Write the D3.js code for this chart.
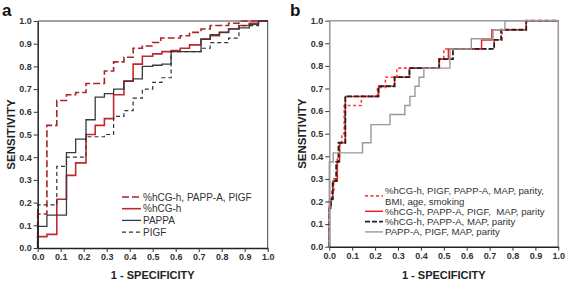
<!DOCTYPE html>
<html>
<head>
<meta charset="utf-8">
<script src="https://cdn.jsdelivr.net/npm/d3@7"></script>
<style>
  body { margin: 0; background: #fff; }
  svg { display: block; font-family: "Liberation Sans", Arial, sans-serif; }
</style>
</head>
<body>
<svg id="chart" width="567" height="284"></svg>
<script>
// tick values shared by both panels
const ticks = [0, 0.1, 0.2, 0.3, 0.4, 0.5, 0.6, 0.7, 0.8, 0.9, 1.0];

// step ROC curves: [1 - specificity, sensitivity], drawn with curveStepAfter
// panel a
const aCombined = [[0,0],[0,0.15],[0.04,0.54],[0.083,0.65],[0.125,0.675],[0.165,0.685],[0.21,0.725],[0.29,0.78],[0.33,0.82],[0.375,0.84],[0.415,0.88],[0.455,0.89],[0.5,0.905],[0.535,0.925],[0.62,0.935],[0.66,0.95],[0.71,0.965],[0.75,0.98],[0.83,0.99],[0.875,1.0],[1,1]];
const aHcg = [[0,0],[0,0.05],[0.04,0.06],[0.083,0.215],[0.125,0.32],[0.165,0.375],[0.21,0.5],[0.25,0.54],[0.29,0.57],[0.33,0.675],[0.375,0.735],[0.415,0.81],[0.455,0.845],[0.5,0.855],[0.54,0.865],[0.58,0.87],[0.62,0.88],[0.66,0.895],[0.71,0.92],[0.75,0.935],[0.79,0.95],[0.83,0.965],[0.875,0.98],[0.92,0.99],[0.96,1.0],[1,1]];
const aPappa = [[0,0],[0,0.095],[0.04,0.145],[0.125,0.42],[0.165,0.48],[0.21,0.565],[0.25,0.665],[0.29,0.68],[0.33,0.7],[0.375,0.735],[0.415,0.745],[0.455,0.8],[0.5,0.805],[0.54,0.81],[0.58,0.865],[0.71,0.92],[0.75,0.94],[0.79,0.95],[0.83,0.965],[0.875,0.97],[0.92,0.985],[0.96,1.0],[1,1]];
const aPigf = [[0,0],[0,0.19],[0.083,0.36],[0.125,0.4],[0.21,0.49],[0.29,0.5],[0.33,0.58],[0.375,0.605],[0.415,0.66],[0.455,0.7],[0.5,0.73],[0.54,0.75],[0.58,0.865],[0.71,0.88],[0.75,0.905],[0.83,0.925],[0.875,0.98],[0.96,1.0],[1,1]];

// panel b
const bFull = [[0,0],[0,0.2],[0.01,0.25],[0.02,0.3],[0.035,0.4],[0.045,0.45],[0.055,0.5],[0.065,0.625],[0.14,0.665],[0.21,0.705],[0.245,0.75],[0.295,0.79],[0.48,0.83],[0.5,0.875],[0.72,0.915],[0.755,0.96],[0.86,1.0],[1,1]];
const bHcgPigf = [[0,0],[0,0.17],[0.007,0.21],[0.015,0.29],[0.035,0.375],[0.045,0.46],[0.07,0.665],[0.215,0.71],[0.285,0.75],[0.35,0.79],[0.48,0.83],[0.52,0.875],[0.665,0.915],[0.71,0.96],[0.86,1.0],[1,1]];
const bHcgMap = [[0,0],[0,0.17],[0.007,0.21],[0.015,0.29],[0.03,0.375],[0.04,0.46],[0.07,0.665],[0.215,0.71],[0.285,0.75],[0.35,0.79],[0.48,0.83],[0.54,0.875],[0.72,0.915],[0.75,0.96],[0.86,1.0],[1,1]];
const bPappaMap = [[0,0],[0,0.375],[0.017,0.415],[0.145,0.46],[0.182,0.54],[0.265,0.585],[0.33,0.625],[0.352,0.665],[0.374,0.71],[0.392,0.75],[0.413,0.79],[0.527,0.875],[0.62,0.92],[0.715,0.96],[0.767,1.0],[1,1]];

const aLabels = ["%hCG-h, PAPP-A, PIGF", "%hCG-h", "PAPPA", "PIGF"];
const bLabels = [["%hCG-h, PIGF, PAPP-A, MAP, parity,", "BMI, age, smoking"], ["%hCG-h, PAPP-A, PIGF,  MAP, parity"], ["%hCG-h, PAPP-A, MAP, parity"], ["PAPP-A, PIGF, MAP, parity"]];

const svg = d3.select("#chart");
const fmt = d3.format(".1f");

function drawPanel(cfg) {
    const x = d3.scaleLinear().domain([0, 1]).range(cfg.xr);
    const y = d3.scaleLinear().domain([0, 1]).range(cfg.yr);
    const g = svg.append("g");

    // frame (top + right)
    g.append("path")
        .attr("d", `M${x(0)},${y(1)}H${x(1)}V${y(0)}`)
        .attr("fill", "none")
        .attr("stroke", cfg.frame)
        .attr("stroke-width", cfg.frameW);

    const line = d3.line()
        .x(d => x(d[0]))
        .y(d => y(d[1]))
        .curve(d3.curveStepAfter);

    cfg.series.forEach(s => {
        g.append("path")
            .datum(s.data)
            .attr("d", line)
            .attr("fill", "none")
            .attr("stroke", s.color)
            .attr("stroke-width", s.width)
            .attr("stroke-dasharray", s.dash || null);
    });

    // axes
    const yAxis = g.append("g")
        .attr("transform", `translate(${x(0)},0)`)
        .call(d3.axisLeft(y).tickValues(ticks).tickFormat(fmt).tickSize(4).tickPadding(2).tickSizeOuter(0));
    const xAxis = g.append("g")
        .attr("transform", `translate(0,${y(0)})`)
        .call(d3.axisBottom(x).tickValues(ticks).tickFormat(fmt).tickSize(4).tickPadding(2).tickSizeOuter(0));
    [yAxis, xAxis].forEach(ax => {
        ax.select(".domain").attr("stroke", cfg.axisColor).attr("stroke-width", 1.5);
        ax.selectAll(".tick line").attr("stroke", "#333");
        ax.selectAll(".tick text")
            .attr("fill", "#333")
            .style("font-size", "9px")
            .style("font-weight", "bold")
            .style("font-family", "'Liberation Sans', Arial, sans-serif");
    });
    yAxis.select(".domain").attr("stroke", cfg.yAxisColor);

    // axis titles
    g.append("text")
        .attr("x", (cfg.xr[0] + cfg.xr[1]) / 2)
        .attr("y", 279)
        .attr("text-anchor", "middle")
        .style("font-size", "11px")
        .style("font-weight", "bold")
        .attr("fill", "#222")
        .text("1 - SPECIFICITY");
    g.append("text")
        .attr("transform", `translate(${cfg.xr[0] - 23},${(cfg.yr[0] + cfg.yr[1]) / 2}) rotate(-90)`)
        .attr("text-anchor", "middle")
        .style("font-size", "11.5px")
        .style("font-weight", "bold")
        .attr("fill", "#222")
        .text("SENSITIVITY");

    // panel letter
    g.append("text")
        .attr("x", cfg.letterX)
        .attr("y", 16)
        .style("font-size", "17px")
        .style("font-weight", "bold")
        .attr("fill", "#111")
        .text(cfg.letter);

    // legend: each text line takes one step, the sample sits in the middle of its lines
    let cursor = cfg.legendY;
    cfg.series.forEach((s, i) => {
        const lines = [].concat(cfg.labels[i]);
        const ly = cursor + (lines.length - 1) * cfg.legendStep / 2;
        g.append("line")
            .attr("x1", cfg.legendX).attr("x2", cfg.legendX + cfg.sampleW)
            .attr("y1", ly).attr("y2", ly)
            .attr("stroke", s.color)
            .attr("stroke-width", s.width)
            .attr("stroke-dasharray", s.dash || null);
        lines.forEach((t, k) => {
            g.append("text")
                .attr("x", cfg.legendX + cfg.sampleW + 2)
                .attr("y", cursor + k * cfg.legendStep + 3.5)
                .style("font-size", cfg.legendFont)
                .style("white-space", "pre")
                .attr("fill", "#333")
                .text(t);
        });
        cursor += lines.length * cfg.legendStep;
    });
}

drawPanel({
    xr: [37.7, 267.7], yr: [248, 21],
    frame: "#444", frameW: 1, axisColor: "#222", yAxisColor: "#222",
    letter: "a", letterX: 2,
    labels: aLabels,
    legendX: 122, legendY: 197, legendStep: 11.7, sampleW: 19, legendFont: "10px",
    series: [
        { data: aCombined, color: "#a8252a", width: 1.6, dash: "7,3" },
        { data: aHcg, color: "#c0292e", width: 1.6 },
        { data: aPappa, color: "#3a3a3a", width: 1.3 },
        { data: aPigf, color: "#333", width: 1.2, dash: "4,3" }
    ]
});

drawPanel({
    xr: [329.3, 558.3], yr: [246.7, 20.7],
    frame: "#999", frameW: 1.5, axisColor: "#222", yAxisColor: "#999",
    letter: "b", letterX: 290,
    labels: bLabels,
    legendX: 365, legendY: 190.7, legendStep: 10.3, sampleW: 18, legendFont: "9.6px",
    series: [
        { data: bFull, color: "#ff4040", width: 1.6, dash: "3,2.5" },
        { data: bHcgPigf, color: "#ee2222", width: 1.5 },
        { data: bHcgMap, color: "#222", width: 1.8, dash: "5,2" },
        { data: bPappaMap, color: "#999", width: 1.4 }
    ]
});
</script>
</body>
</html>
